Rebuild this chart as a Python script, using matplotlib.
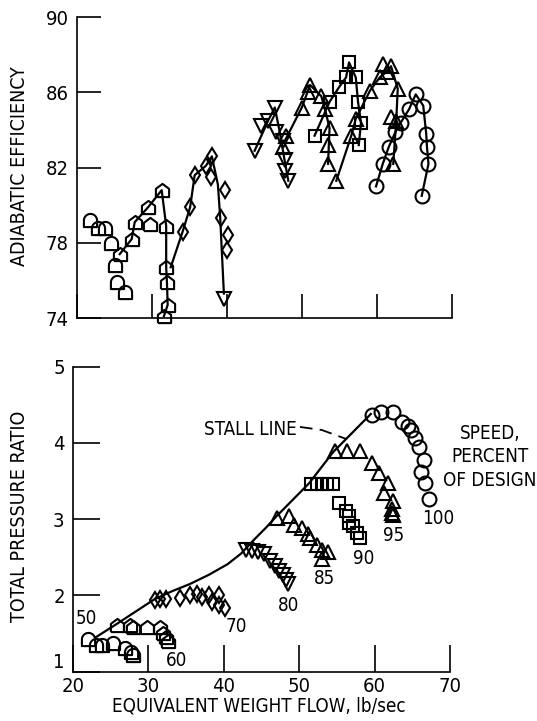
import matplotlib
matplotlib.use('Agg')
import matplotlib.pyplot as plt
import numpy as np

plt.rcParams['font.family'] = ['DejaVu Sans']
plt.rcParams['font.stretch'] = 'condensed'

# ---------------- data: adiabatic efficiency (top) ----------------
eff_50_x = [21.7, 22.8, 23.7, 24.6, 25.1, 25.3, 26.4]
eff_50_y = [79.2, 78.8, 78.8, 78.0, 76.8, 75.9, 75.4]
eff_60_x = [25.7, 27.3, 27.7, 29.5, 29.8, 31.3, 31.9, 31.9, 32.0, 32.1, 31.6]
eff_60_y = [77.4, 78.2, 79.1, 79.9, 79.0, 80.8, 78.9, 76.7, 75.9, 74.7, 74.1]
eff_70_x = [34.1, 35.1, 35.7, 37.2, 38.0, 37.9, 39.7, 39.2, 40.2, 40.0]
eff_70_y = [78.6, 79.9, 81.6, 82.1, 82.6, 81.5, 80.8, 79.3, 78.4, 77.6]
eff_80_x = [39.6, 43.7, 44.6, 45.5, 46.4, 46.6, 47.5, 47.7, 47.7, 48.2]
eff_80_y = [75.0, 82.9, 84.2, 84.5, 85.2, 83.9, 83.4, 82.4, 81.8, 81.3]
eff_85_x = [47.5, 47.9, 50.0, 50.8, 51.1, 52.6, 53.1, 53.7, 53.5, 53.5]
eff_85_y = [83.1, 83.7, 85.2, 86.0, 86.4, 85.8, 85.1, 84.1, 83.2, 82.2]
eff_90_x = [51.7, 53.7, 55.0, 55.9, 56.3, 57.2, 57.5, 57.9, 57.6]
eff_90_y = [83.7, 85.5, 86.3, 86.8, 87.6, 86.8, 85.5, 84.4, 83.2]
eff_95_x = [54.6, 56.6, 57.2, 59.1, 60.4, 60.8, 61.3, 61.9, 62.8, 61.9, 62.6, 62.2]
eff_95_y = [81.3, 83.7, 84.6, 86.1, 86.8, 87.5, 87.1, 87.4, 86.2, 84.7, 84.5, 82.2]
eff_100_x = [59.9, 60.8, 61.6, 62.5, 63.2, 64.3, 65.2, 66.2, 66.6, 66.7, 66.9, 66.0]
eff_100_y = [81.0, 82.2, 83.1, 83.9, 84.4, 85.1, 85.9, 85.3, 83.8, 83.1, 82.2, 80.5]

# faired curves through the efficiency data
eff_line_60_x = [25.7, 27.3, 27.7, 29.5, 31.3, 31.9, 31.9, 32.0, 32.1, 31.6]
eff_line_60_y = [77.4, 78.2, 79.1, 79.9, 80.8, 78.9, 76.7, 75.9, 74.7, 74.1]
eff_line_70_x = [32.5, 34.1, 35.1, 35.7, 37.2, 38.0, 38.8, 39.1, 39.6]
eff_line_70_y = [76.7, 78.6, 79.9, 81.6, 82.1, 82.6, 81.1, 79.4, 75.3]
eff_line_80_x = [43.7, 45.5, 46.4, 47.0, 47.7, 48.2]
eff_line_80_y = [82.9, 84.5, 85.2, 84.0, 82.4, 81.3]
eff_line_85_x = [47.7, 50.0, 51.1, 52.6, 53.1, 53.7, 53.5]
eff_line_85_y = [83.4, 85.2, 86.4, 85.8, 85.1, 84.1, 82.2]
eff_line_90_x = [51.7, 53.7, 55.0, 55.9, 56.3, 57.2, 57.5, 57.9, 57.6]
eff_line_90_y = [83.7, 85.5, 86.3, 86.8, 87.6, 86.8, 85.5, 84.4, 83.2]
eff_line_95_x = [54.6, 56.6, 57.2, 59.1, 60.4, 61.3, 61.9, 62.8, 62.6, 62.2]
eff_line_95_y = [81.3, 83.7, 84.6, 86.1, 86.8, 87.1, 87.4, 86.2, 84.5, 82.2]
eff_line_100_x = eff_100_x
eff_line_100_y = eff_100_y

# ---------------- data: total pressure ratio (bottom) ----------------
pr_50_x = [22.0, 23.0, 23.9, 25.3, 26.9, 27.7, 28.0]
pr_50_y = [1.43, 1.35, 1.35, 1.37, 1.31, 1.26, 1.22]
pr_60_x = [25.8, 27.5, 27.9, 29.8, 31.5, 32.0, 32.4, 32.6]
pr_60_y = [1.61, 1.61, 1.58, 1.58, 1.59, 1.51, 1.46, 1.40]
pr_70_x = [30.9, 31.5, 32.4, 34.2, 35.5, 36.4, 37.1, 38.0, 38.4, 39.3, 39.4, 40.2]
pr_70_y = [1.94, 1.95, 1.96, 1.97, 2.01, 2.02, 1.98, 2.01, 1.91, 2.00, 1.87, 1.84]
pr_80_x = [43.0, 43.8, 44.5, 45.3, 46.1, 46.8, 47.3, 47.9, 48.3, 48.5]
pr_80_y = [2.60, 2.58, 2.57, 2.54, 2.45, 2.38, 2.32, 2.27, 2.20, 2.15]
pr_85_x = [47.0, 48.6, 49.3, 50.4, 51.2, 51.4, 52.4, 53.0, 53.8, 53.0]
pr_85_y = [3.02, 3.04, 2.93, 2.88, 2.80, 2.76, 2.66, 2.60, 2.57, 2.48]
pr_90_x = [51.6, 52.3, 53.0, 53.7, 54.5, 55.3, 56.2, 56.6, 56.6, 57.2, 57.6, 58.0]
pr_90_y = [3.46, 3.46, 3.46, 3.46, 3.46, 3.21, 3.11, 3.04, 2.95, 2.91, 2.82, 2.75]
pr_95_x = [54.7, 56.4, 58.1, 59.7, 60.6, 61.8, 61.2, 62.5, 62.3, 62.3, 62.4]
pr_95_y = [3.89, 3.89, 3.89, 3.74, 3.61, 3.47, 3.35, 3.24, 3.13, 3.08, 3.05]
pr_100_x = [59.6, 60.9, 62.5, 63.7, 64.4, 64.8, 65.4, 65.9, 66.6, 66.2, 66.7, 67.2]
pr_100_y = [4.37, 4.41, 4.41, 4.28, 4.22, 4.17, 4.07, 3.95, 3.77, 3.62, 3.47, 3.27]

stall_x = [23.0, 25.7, 30.8, 33.0, 35.5, 38.0, 40.5, 42.3, 44.0, 45.7, 47.0, 51.3, 54.5, 59.5]
stall_y = [1.45, 1.62, 1.95, 2.05, 2.15, 2.27, 2.41, 2.55, 2.73, 2.90, 3.04, 3.47, 3.88, 4.38]
leader_x = [50.1, 53.0, 56.3]
leader_y = [4.21, 4.17, 4.05]

speed_labels = ['50', '60', '70', '80', '85', '90', '95', '100']
speed_label_x = [21.8, 33.8, 41.7, 48.6, 53.4, 58.5, 62.5, 68.5]
speed_label_y = [1.70, 1.15, 1.59, 1.87, 2.22, 2.49, 2.79, 3.01]

eff_ticks = [74, 78, 82, 86, 90]
pr_ticks = [1, 2, 3, 4, 5]
flow_ticks = [20, 30, 40, 50, 60, 70]

# ---------------- marker shapes ----------------
th = np.linspace(0, np.pi, 15)
tomb = [(np.cos(t), np.sin(t)) for t in th] + [(-1, -1), (1, -1), (1, 0)]
house = [(-1, -1), (1, -1), (1, 0.25), (0, 1), (-1, 0.25), (-1, -1)]

style = {
    50: dict(marker=tomb, ms=9.5),
    60: dict(marker=house, ms=9.5),
    70: dict(marker='d', ms=8),
    80: dict(marker='v', ms=9.5),
    85: dict(marker='^', ms=9.5),
    90: dict(marker='s', ms=8.5),
    95: dict(marker='^', ms=9.5),
    100: dict(marker='o', ms=10),
}

W, H = 537, 721
fig = plt.figure(figsize=(W / 100, H / 100), dpi=100)
ax1 = fig.add_axes([77 / W, 1 - 318 / H, (451.7 - 77) / W, (318 - 17.3) / H])
ax2 = fig.add_axes([73 / W, 1 - 671.7 / H, (450 - 73) / W, (671.7 - 366.7) / H])

lw = 1.6
mew = 1.5

def pts(ax, spd, x, y):
    s = style[spd]
    ax.plot(x, y, linestyle='none', marker=s['marker'], ms=s['ms'],
            mfc='none', mec='black', mew=mew, clip_on=False, zorder=3)

# top panel
for xs, ys in [(eff_line_60_x, eff_line_60_y), (eff_line_70_x, eff_line_70_y),
               (eff_line_80_x, eff_line_80_y), (eff_line_85_x, eff_line_85_y),
               (eff_line_90_x, eff_line_90_y), (eff_line_95_x, eff_line_95_y),
               (eff_line_100_x, eff_line_100_y)]:
    ax1.plot(xs, ys, color='black', lw=lw, zorder=2)
for spd, xs, ys in [(50, eff_50_x, eff_50_y), (60, eff_60_x, eff_60_y),
                    (70, eff_70_x, eff_70_y), (80, eff_80_x, eff_80_y),
                    (85, eff_85_x, eff_85_y), (90, eff_90_x, eff_90_y),
                    (95, eff_95_x, eff_95_y), (100, eff_100_x, eff_100_y)]:
    pts(ax1, spd, xs, ys)

# bottom panel
ax2.plot(stall_x, stall_y, color='black', lw=lw, zorder=2)
ax2.plot(leader_x, leader_y, color='black', lw=1.3, dashes=(7, 4), zorder=2)
for spd, xs, ys in [(50, pr_50_x, pr_50_y), (60, pr_60_x, pr_60_y),
                    (70, pr_70_x, pr_70_y), (80, pr_80_x, pr_80_y),
                    (85, pr_85_x, pr_85_y), (90, pr_90_x, pr_90_y),
                    (95, pr_95_x, pr_95_y), (100, pr_100_x, pr_100_y)]:
    pts(ax2, spd, xs, ys)

for lab, x, y in zip(speed_labels, speed_label_x, speed_label_y):
    ax2.text(x, y, lab, ha='center', va='center', fontsize=13.5, clip_on=False)
ax2.text(37.4, 4.17, 'STALL LINE', ha='left', va='center', fontsize=13.5)
ax2.text(75.3, 4.13, 'SPEED,', ha='center', va='center', fontsize=13.5, clip_on=False)
ax2.text(75.3, 3.82, 'PERCENT', ha='center', va='center', fontsize=13.5, clip_on=False)
ax2.text(75.3, 3.51, 'OF DESIGN', ha='center', va='center', fontsize=13.5, clip_on=False)

# axes styling
for ax in (ax1, ax2):
    ax.spines['top'].set_visible(False)
    ax.spines['right'].set_visible(False)
    for sp in ('left', 'bottom'):
        ax.spines[sp].set_linewidth(1.2)
    ax.set_xlim(20, 70)
    ax.set_xticks(flow_ticks)

ax1.set_ylim(74, 90)
ax1.set_yticks(eff_ticks)
ax1.set_yticklabels([str(t) for t in eff_ticks])
ax1.set_xticklabels([])
ax1.tick_params(axis='both', direction='in', length=17, width=1.2, labelsize=14.5, pad=6)

ax2.set_ylim(1, 5)
ax2.set_yticks(pr_ticks)
ax2.set_yticklabels([str(t) for t in pr_ticks])
ax2.set_xticklabels([str(t) for t in flow_ticks])
ax2.tick_params(axis='both', direction='in', length=19.5, width=1.2, labelsize=14.5, pad=6)
ax2.tick_params(axis='x', pad=4)
# the "1" label sits slightly raised in the original
ax2.get_yticklabels()[0].set_va('bottom')

fig.text(20 / W, 1 - 166 / H, 'ADIABATIC EFFICIENCY', rotation=90,
         ha='center', va='center', fontsize=14)
fig.text(19.5 / W, 1 - 516 / H, 'TOTAL PRESSURE RATIO', rotation=90,
         ha='center', va='center', fontsize=14)
fig.text(259 / W, 1 - 706 / H, 'EQUIVALENT WEIGHT FLOW, lb/sec',
         ha='center', va='center', fontsize=13.5)

fig.savefig('out.png', dpi=100)
